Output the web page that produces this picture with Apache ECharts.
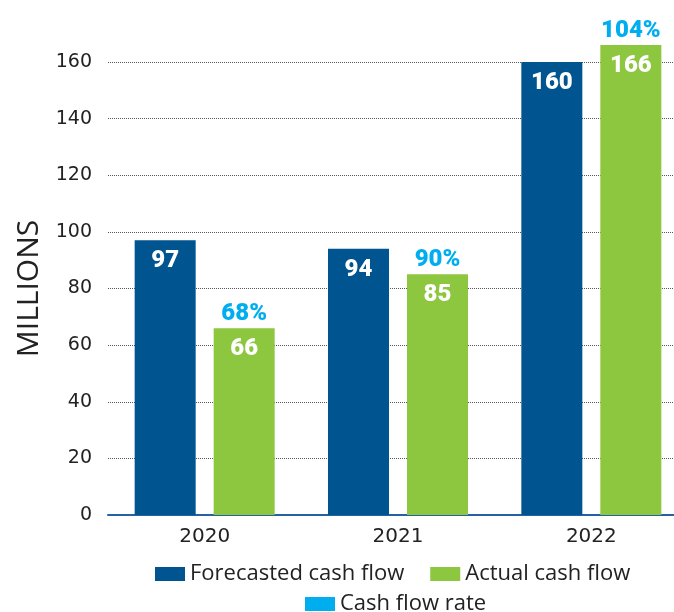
<!DOCTYPE html>
<html>
<head>
<meta charset="utf-8">
<script src="https://cdn.jsdelivr.net/npm/echarts@6/dist/echarts.min.js"></script>
<style>html,body{margin:0;padding:0;background:#fff}#c{width:674px;height:612px}</style>
</head>
<body>
<div id="c"></div>
<script>
const categories = ['2020', '2021', '2022'];
const forecasted = [97, 94, 160];
const actual = [66, 85, 166];
const rate = [68, 90, 104];
const yTicks = [0, 20, 40, 60, 80, 100, 120, 140, 160];

const BLUE = '#00548F', GREEN = '#8DC63F', CYAN = '#00AEEF';
const valueLabel = {
  show: true, position: 'insideTop', distance: 9, color: '#fff',
  fontFamily: 'Roboto', fontWeight: 900, fontSize: 24
};

const chart = echarts.init(document.getElementById('c'), null, {renderer: 'canvas'});
chart.setOption({
  animation: false,
  grid: {left: 108, width: 580, top: 62, bottom: 97, containLabel: false, outerBoundsMode: 'none'},
  legend: [
    {data: ['Forecasted cash flow', 'Actual cash flow'], left: 150, top: 558, icon: 'rect',
     itemWidth: 30, itemHeight: 14, itemGap: 26,
     textStyle: {fontFamily: 'Open Sans', fontSize: 22, color: '#222'}},
    {data: ['Cash flow rate'], left: 300, top: 588, icon: 'rect',
     itemWidth: 30, itemHeight: 14,
     textStyle: {fontFamily: 'Open Sans', fontSize: 22, color: '#222'}}
  ],
  xAxis: {
    type: 'category', data: categories,
    axisLine: {lineStyle: {color: '#2462A4', width: 2}},
    axisTick: {show: false},
    axisLabel: {fontFamily: 'DejaVu Sans', fontSize: 20, color: '#222', margin: 12}
  },
  yAxis: {
    type: 'value', min: yTicks[0], max: yTicks[yTicks.length - 1], interval: 20,
    name: 'MILLIONS', nameLocation: 'middle', nameGap: 57,
    nameTextStyle: {fontFamily: 'Open Sans', fontSize: 30, color: '#222'},
    axisLine: {show: false}, axisTick: {show: false},
    axisLabel: {fontFamily: 'DejaVu Sans', fontSize: 19, color: '#222', margin: 16},
    splitLine: {lineStyle: {color: '#555', type: 'dotted', width: 1}}
  },
  series: [
    {name: 'Forecasted cash flow', type: 'bar', data: forecasted, barWidth: 61, barGap: '29.5%',
     itemStyle: {color: BLUE}, label: valueLabel, clip: false},
    {name: 'Actual cash flow', type: 'bar', data: actual, barWidth: 61, barGap: '29.5%',
     itemStyle: {color: GREEN}, label: valueLabel, clip: false},
    {name: 'Cash flow rate', type: 'scatter', data: actual, symbolSize: 0.1, clip: false,
     symbolOffset: [39.5, 0],
     itemStyle: {color: CYAN, opacity: 1},
     label: {show: true, position: 'top', distance: 2, color: CYAN,
       fontFamily: 'Roboto', fontWeight: 900, fontSize: 24,
       formatter: p => rate[p.dataIndex] + '%'}}
  ]
});
</script>
</body>
</html>
